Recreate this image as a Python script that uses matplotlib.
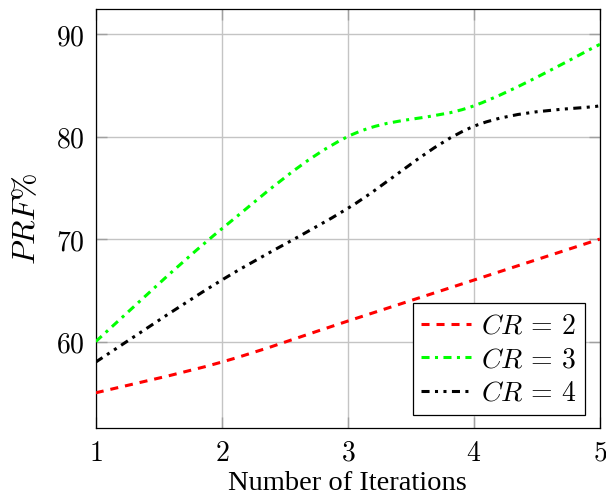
import matplotlib
matplotlib.use("Agg")
import matplotlib.pyplot as plt
import numpy as np
from matplotlib.path import Path
from matplotlib.patches import PathPatch
from matplotlib.lines import Line2D
from matplotlib.ticker import FuncFormatter

# data
iterations = [1, 2, 3, 4, 5]
prf_cr2 = [55, 58, 62, 66, 70]
prf_cr3 = [60, 71, 80, 83, 89]
prf_cr4 = [58, 66, 73, 81, 83]
labels = [r"$CR\,=\,2$", r"$CR\,=\,3$", r"$CR\,=\,4$"]

plt.rcParams["mathtext.fontset"] = "cm"
plt.rcParams["lines.scale_dashes"] = False

# look of each series (pgfplots-ish dash patterns, in points)
styles = [
    dict(color="#ff0000", dashes=(5.8, 5.0)),
    dict(color="#00ff00", dashes=(5.8, 3.9, 2.2, 3.9)),
    dict(color="#000000", dashes=(5.8, 3.9, 2.2, 3.9, 2.2, 3.9)),
]
lw = 2.2
tension = 0.17   # smoothing of the curves


def smooth_path(xs, ys):
    # bezier through the points, control points from neighbours
    p = np.column_stack([xs, ys]).astype(float)
    n = len(p)
    tang = np.zeros_like(p)
    for i in range(n):
        a = p[max(i - 1, 0)]
        b = p[min(i + 1, n - 1)]
        tang[i] = (b - a) * tension
    verts = [p[0]]
    codes = [Path.MOVETO]
    for i in range(n - 1):
        c1 = p[i] + tang[i] if i > 0 else p[i] + (p[i + 1] - p[i]) * tension
        c2 = p[i + 1] - tang[i + 1] if i + 1 < n - 1 else p[i + 1] - (p[i + 1] - p[i]) * tension
        verts += [c1, c2, p[i + 1]]
        codes += [Path.CURVE4] * 3
    return Path(verts, codes)


fig = plt.figure(figsize=(6.06, 4.99), dpi=100)
ax = fig.add_axes([0.158, 0.143, 0.832, 0.838])

handles = []
for ys, st, lab in zip([prf_cr2, prf_cr3, prf_cr4], styles, labels):
    patch = PathPatch(smooth_path(iterations, ys), facecolor="none", edgecolor=st["color"],
                      lw=lw, linestyle=(0, st["dashes"]), transform=ax.transData, zorder=3)
    ax.add_patch(patch)
    handles.append(Line2D([], [], color=st["color"], lw=lw, linestyle=(0, st["dashes"]), label=lab))

allv = prf_cr2 + prf_cr3 + prf_cr4
pad = 0.1 * (max(allv) - min(allv))
ax.set_xlim(min(iterations), max(iterations))
ax.set_ylim(min(allv) - pad, max(allv) + pad)
ax.set_xticks(iterations)
ax.set_yticks([60, 70, 80, 90])
fmt = FuncFormatter(lambda v, pos: r"$%d$" % v)
ax.xaxis.set_major_formatter(fmt)
ax.yaxis.set_major_formatter(fmt)

ax.grid(True, color="#c4c4c4", lw=1.0)
ax.set_axisbelow(True)
ax.tick_params(direction="in", length=8, width=1.0, color="#a0a0a0",
               top=True, right=True, labelsize=20, pad=8)
for s in ax.spines.values():
    s.set_linewidth(0.9)

ax.set_xlabel("Number of Iterations", fontsize=20.5, family="Liberation Serif", labelpad=3)
ax.set_ylabel(r"$PRF\%$", fontsize=23, labelpad=10)

leg = ax.legend(handles=handles, loc="lower right", bbox_to_anchor=(0.97, 0.03),
                borderaxespad=0, fontsize=20, handlelength=1.8, handletextpad=0.35,
                labelspacing=0.2, borderpad=0.3, fancybox=False, framealpha=1,
                edgecolor="black")
leg.get_frame().set_linewidth(0.9)

fig.savefig("out.png", dpi=100)
